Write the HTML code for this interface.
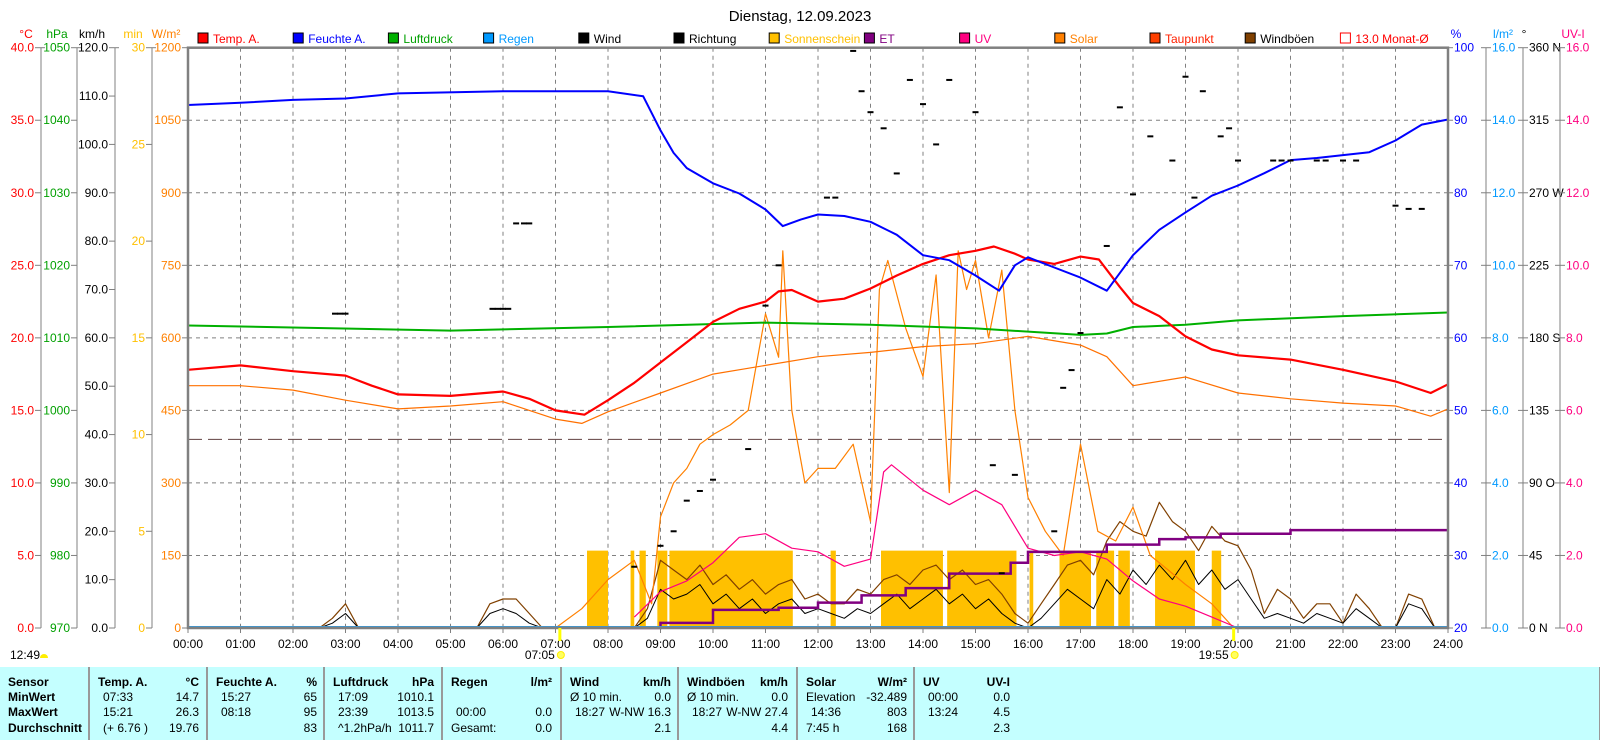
<!DOCTYPE html>
<html><head><meta charset="utf-8">
<style>
html,body{margin:0;padding:0;background:#fff;}
body{width:1600px;height:740px;overflow:hidden;position:relative;font-family:"Liberation Sans",sans-serif;}
svg{position:absolute;left:0;top:0;}
svg text{font-family:"Liberation Sans",sans-serif;font-size:12px;}
#tbl{position:absolute;left:0;top:667px;width:1599px;height:73px;background:#c4ffff;border-right:1px solid #999;font-size:12px;color:#000;}
.col{position:absolute;top:0;height:73px;border-left:2px solid #999;}
.r{position:absolute;white-space:nowrap;}
.b{font-weight:bold;}
</style></head>
<body>
<svg id="chart" width="1600" height="667"></svg>
<div id="tbl">
 <div class="r b" style="left:8px;top:8px">Sensor</div>
 <div class="r b" style="left:8px;top:23px">MinWert</div>
 <div class="r b" style="left:8px;top:38px">MaxWert</div>
 <div class="r b" style="left:8px;top:54px">Durchschnitt</div>
</div>
<script>
const NS='http://www.w3.org/2000/svg';
const svg=document.getElementById('chart');
// ---- data ----
const tempT=[0,1,2,3,3.5,4,5,6,6.5,7,7.55,8,8.5,9,9.5,10,10.5,11,11.25,11.5,12,12.5,13,13.5,14,14.5,15,15.35,15.75,16,16.5,17,17.35,17.75,18,18.5,19,19.5,20,21,22,23,23.67,24];
const tempV=[17.8,18.1,17.7,17.4,16.7,16.1,16.0,16.3,15.8,15.0,14.7,15.7,16.9,18.3,19.7,21.1,22.0,22.5,23.2,23.3,22.5,22.7,23.4,24.3,25.1,25.7,26.0,26.3,25.8,25.4,25.1,25.6,25.4,23.5,22.4,21.5,20.1,19.2,18.8,18.5,17.8,17.0,16.2,16.8];
const humT=[0,1,2,3,4,6,8,8.67,9,9.25,9.5,10,10.5,11,11.33,11.67,12,12.5,13,13.5,14,14.5,15,15.45,15.75,16,16.5,17,17.5,18,18.5,19,19.5,20,20.5,21,21.5,22,22.5,23,23.5,24];
const humV=[92.1,92.4,92.8,93,93.7,94,94,93.3,88.6,85.5,83.4,81.3,79.9,77.7,75.4,76.3,77,76.8,76,74.2,71.4,70.7,68.6,66.5,70,71.1,69.7,68.3,66.5,71.4,74.9,77.3,79.6,81,82.7,84.5,84.8,85.2,85.6,87.2,89.4,90.1];
const presT=[0,5,8,11,13,15,17,17.5,18,19,20,22,24];
const presV=[1011.7,1011.0,1011.5,1012.1,1011.8,1011.3,1010.4,1010.6,1011.5,1011.8,1012.4,1013.0,1013.5];
const dewT=[0,1,2,3,4,5,6,7,7.5,8,9,10,11,12,13,14,15,16,17,17.5,18,19,20,21,22,23,23.67,24];
const dewV=[16.7,16.7,16.4,15.7,15.1,15.3,15.6,14.4,14.1,14.9,16.2,17.5,18.1,18.7,19.0,19.4,19.6,20.1,19.5,18.7,16.7,17.3,16.2,15.8,15.5,15.3,14.6,15.1];
const solarT=[7,7.5,8,8.5,8.83,9,9.25,9.5,9.75,10,10.33,10.67,11,11.25,11.33,11.5,11.75,12,12.33,12.67,13,13.17,13.33,13.67,14,14.25,14.5,14.67,14.83,15,15.25,15.5,15.75,16,16.33,16.67,17,17.33,17.67,18,18.33,18.67,19,19.5,19.92];
const solarV=[0,40,100,140,50,230,300,330,380,400,420,450,650,560,780,450,300,330,330,380,220,700,760,620,520,730,280,780,700,760,600,740,450,270,200,150,380,200,180,250,150,120,90,50,0];
const uvT=[8.5,9,9.5,10,10.5,11,11.5,12,12.5,13,13.25,13.4,14,14.5,15,15.5,16,16.5,17,17.5,18,18.5,19,19.5,20];
const uvV=[0.3,1.0,1.3,1.8,2.5,2.6,2.2,2.1,1.7,1.9,4.3,4.5,3.8,3.4,3.8,3.4,2.2,2.0,2.1,1.9,1.3,0.8,0.6,0.3,0];
const etT=[8,9,10,11.25,12,12.83,13.67,14.5,15.67,16,17.5,18.5,19,19.67,21,24];
const etV=[0,0.14,0.5,0.56,0.7,0.9,1.1,1.5,1.8,2.1,2.3,2.45,2.5,2.6,2.7,2.7];
const sunStart=[7.6,8.43,8.6,8.94,9.17,12.24,13.2,14.46,16.03,16.6,17.3,17.72,18.42,19.5];
const sunEnd=[8.0,8.5,8.72,9.13,11.52,12.34,14.38,15.78,16.1,17.2,17.64,17.94,19.18,19.68];
const sunMin=[4,4,4,4,4,4,4,4,4,4,4,4,4,4];
const windV=[0,0,0,0,0,0,0,0,0,0,0,1,3,0,0,0,0,0,0,0,0,0,0,3,4,3,1,0,0,0,0,0,0,0,0,2,8,6,7,9,5,7,4,6,3,5,6,3,4,3,2,4,3,5,7,4,6,8,5,7,4,6,3,1,0,2,5,8,6,4,10,7,12,9,13,10,14,9,12,8,10,6,2,3,2,1,3,2,1,4,2,0,0,5,4,0,0];
const gustV=[0,0,0,0,0,0,0,0,0,0,0,2,5,0,0,0,0,0,0,0,0,0,0,5,6,6,3,0,0,0,0,0,0,0,0,4,14,12,10,13,9,11,8,10,7,9,10,6,7,5,5,8,7,10,11,9,12,13,10,12,9,10,7,3,1,5,9,13,14,11,18,22,20,19,26,22,20,16,21,18,17,12,3,8,6,2,5,5,1,7,4,0,0,7,6,0,0];
const dirT=[2.8,2.9,3.0,5.8,5.9,6.0,6.1,6.25,6.4,6.5,8.5,9.0,9.25,9.5,9.75,10.0,10.67,11.0,11.25,12.17,12.33,12.67,12.83,13.0,13.25,13.5,13.75,14.0,14.25,14.5,15.0,15.33,15.5,15.75,16.5,16.67,16.83,17.0,17.5,17.75,18.0,18.33,18.75,19.0,19.17,19.33,19.67,19.83,20.0,20.67,20.83,21.0,21.5,21.67,22.0,22.25,23.0,23.25,23.5];
const dirV=[195,195,195,198,198,198,198,251,251,251,38,51,60,79,85,92,111,200,225,267,267,358,333,320,310,282,340,325,300,340,320,101,34,95,60,149,160,183,237,323,269,305,290,342,267,333,305,310,290,290,290,290,290,290,290,290,262,260,260];
const tempTicks=['0.0','5.0','10.0','15.0','20.0','25.0','30.0','35.0','40.0'];
const presTicks=['970','980','990','1000','1010','1020','1030','1040','1050'];
const kmhTicks=['0.0','10.0','20.0','30.0','40.0','50.0','60.0','70.0','80.0','90.0','100.0','110.0','120.0'];
const minTicks=['0','5','10','15','20','25','30'];
const wTicks=['0','150','300','450','600','750','900','1050','1200'];
const humTicks=['20','30','40','50','60','70','80','90','100'];
const rainTicks=['0.0','2.0','4.0','6.0','8.0','10.0','12.0','14.0','16.0'];
const dirTicks=['0  N','45','90  O','135','180  S','225','270  W','315','360  N'];
const uvTicks=['0.0','2.0','4.0','6.0','8.0','10.0','12.0','14.0','16.0'];
const hourLabels=['00:00','01:00','02:00','03:00','04:00','05:00','06:00','07:00','08:00','09:00','10:00','11:00','12:00','13:00','14:00','15:00','16:00','17:00','18:00','19:00','20:00','21:00','22:00','23:00','24:00'];
const legendLabels=['Temp. A.','Feuchte A.','Luftdruck','Regen','Wind','Richtung','Sonnenschein','ET','UV','Solar','Taupunkt','Windböen','13.0 Monat-Ø'];
const legendColors=['#ff0000','#0000ff','#00b000','#0099ff','#000000','#000000','#ffc000','#800080','#ff0080','#ff8000','#ff4000','#804000','none'];
const legendText=['#ff0000','#0000ff','#00a000','#0099ff','#000','#000','#ffc000','#800080','#ff0080','#ff8000','#ff2000','#000','#ff0000'];
const monthAvg=13.0;
// ---- scales ----
const X0=188,X1=1448,YB=628,YT=47.7,PH=YB-YT;
const X=h=>X0+h*(X1-X0)/24;
const Yf=f=>YB-f*PH;
const T=c=>Yf(c/40), P=v=>Yf((v-970)/80), KM=v=>Yf(v/120), MN=v=>Yf(v/30), W=v=>Yf(v/1200);
const HU=v=>Yf((v-20)/80), L=v=>Yf(v/16), D=v=>Yf(v/360), U=v=>Yf(v/16);
function mk(tag,attrs,parent){const e=document.createElementNS(NS,tag);for(const k in attrs)e.setAttribute(k,attrs[k]);(parent||svg).appendChild(e);return e;}
function txt(x,y,s,fill,anchor,size){const e=mk('text',{x:x,y:y,fill:fill,'text-anchor':anchor||'start'});if(size)e.style.fontSize=size+'px';e.textContent=s;return e;}
function poly(ts,vs,sc,color,w){return mk('polyline',{points:ts.map((t,i)=>X(t).toFixed(1)+','+sc(vs[i]).toFixed(1)).join(' '),fill:'none',stroke:color,'stroke-width':w,'stroke-linejoin':'round'});}
// title
let t=txt(800,21,'Dienstag, 12.09.2023','#000','middle',15);


// grid
for(let i=1;i<24;i++){const g=mk('line',{x1:X(i),x2:X(i),y1:YT,y2:YB,stroke:'#808080','stroke-dasharray':'4,4'});

}
for(let i=1;i<8;i++){const g=mk('line',{x1:X0,x2:X1,y1:Yf(i/8),y2:Yf(i/8),stroke:'#808080','stroke-dasharray':'4,4'});

}
// sunshine bars
sunStart.forEach((s,i)=>{const r=mk('rect',{x:X(s),y:MN(sunMin[i]),width:X(sunEnd[i])-X(s),height:YB-MN(sunMin[i]),fill:'#ffc000'});

});
// monthly avg dashed
let ma=mk('line',{x1:X0,x2:X1,y1:T(monthAvg),y2:T(monthAvg),stroke:'#604040','stroke-dasharray':'14,6'});


// wind & gust
const wT=windV.map((v,i)=>i*0.25);
let s;
s=poly(wT,gustV,KM,'#804000',1.2);


s=poly(wT,windV,KM,'#000',1);


s=poly(solarT,solarV,W,'#ff8000',1.2);


s=poly(uvT,uvV,U,'#ff0080',1.2);


s=poly(dewT,dewV,T,'#ff7000',1.2);


// ET step
let etPts=[];etT.forEach((tt,i)=>{if(i>0)etPts.push(X(tt)+','+L(etV[i-1]));etPts.push(X(tt)+','+L(etV[i]));});
s=mk('polyline',{points:etPts.join(' '),fill:'none',stroke:'#800080','stroke-width':2.5});


s=poly(presT,presV,P,'#00b000',2);


s=poly(tempT,tempV,T,'#ff0000',2.2);


s=poly(humT,humV,HU,'#0000ff',2);


// direction dots
dirT.forEach((tt,i)=>{const r=mk('rect',{x:X(tt)-3,y:D(dirV[i])-1,width:6,height:2,fill:'#000'});

});
// rain baseline
s=mk('line',{x1:X0,x2:X1,y1:YB-1,y2:YB-1,stroke:'#3399dd','stroke-width':2});


// frame
s=mk('rect',{x:X0,y:YT,width:X1-X0,height:PH,fill:'none',stroke:'#808080','stroke-width':2.5});


// x labels
hourLabels.forEach((l,i)=>{mk('line',{x1:X(i),x2:X(i),y1:YB,y2:YB+5,stroke:'#808080'});const e=txt(X(i),648,l,'#000','middle');

});
// sunrise/sunset
[[7.083,'07:05'],[19.917,'19:55']].forEach(a=>{mk('line',{x1:X(a[0]),x2:X(a[0]),y1:YB,y2:YB+13,stroke:'#ffff00','stroke-width':3});
const e=txt(X(a[0])-5,659,a[1],'#000','end');


mk('circle',{cx:X(a[0])+1,cy:655,r:3.5,fill:'#ffff60',stroke:'#ffee00'});});
t=txt(10,659,'12:49','#000');


mk('path',{d:'M40 658 a4 4 0 0 1 8 0 z',fill:'#ffee00'});
// left/right axes
function axis(lx,labels,color,side,unit,ux,dn){
 mk('line',{x1:lx,x2:lx,y1:YT,y2:YB,stroke:'#808080'});
 const n=labels.length-1;
 labels.forEach((l,i)=>{const y=Yf(i/n);
  if(side==='L'){mk('line',{x1:lx-6,x2:lx+(i===n?4:0),y1:y,y2:y,stroke:'#808080'});const e=txt(lx-7,y+4,l,color,'end',12);
  
  }
  else{mk('line',{x1:lx-(lx===X1?0:5),x2:lx+5,y1:y,y2:y,stroke:'#808080'});const e=txt(lx+6,y+4,l,color,'start',12);
  
  }
 });
 const u=txt(ux,38,unit,color,'middle');
 
 
}
axis(41,tempTicks,'#ff0000','L','°C',26,'temp-axis');
axis(77,presTicks,'#00a000','L','hPa',57,'pressure-axis');
axis(115,kmhTicks,'#000','L','km/h',92,'wind-axis');
axis(152,minTicks,'#ffc000','L','min',133,'sunshine-axis');
axis(X0,wTicks,'#ff8000','L','W/m²',166,'solar-axis');
axis(X1,humTicks,'#0000ff','R','%',1456,'humidity-axis');
axis(1486,rainTicks,'#0099ff','R','l/m²',1503,'rain-axis');
axis(1523,dirTicks.map(x=>x.replace(/  /,' ')),'#000','R','°',1524,'direction-axis');
axis(1560,uvTicks,'#ff0080','R','UV-I',1573,'uv-axis');
// legend
legendLabels.forEach((l,i)=>{const x=198+i*95.2;
 const b=mk('rect',{x:x,y:33,width:10,height:10,fill:legendColors[i],stroke:legendColors[i]==='none'?'#ff0000':'#000'});
 
 
 const e=txt(x+15,43,l,legendText[i]);
 
 });
// table
const tbl=document.getElementById('tbl');
const colX=[88,206,323,441,560,677,796,913];
const colHead=[['Temp. A.','°C'],['Feuchte A.','%'],['Luftdruck','hPa'],['Regen','l/m²'],['Wind','km/h'],['Windböen','km/h'],['Solar','W/m²'],['UV','UV-I']];
const colRows=[[['07:33','14.7'],['15:21','26.3'],['(+ 6.76 )','19.76']],[['15:27','65'],['08:18','95'],['','83']],[['17:09','1010.1'],['23:39','1013.5'],['^1.2hPa/h','1011.7']],[['',''],['00:00','0.0'],['Gesamt:','0.0']],[['Ø 10 min.','0.0'],['18:27','W-NW 16.3'],['','2.1']],[['Ø 10 min.','0.0'],['18:27','W-NW 27.4'],['','4.4']],[['Elevation','-32.489'],['14:36','803'],['7:45 h','168']],[['00:00','0.0'],['13:24','4.5'],['','2.3']]];
const rowTop=[23,38,54];
colX.forEach((cx,i)=>{
 const c=document.createElement('div');c.className='col';c.style.left=cx+'px';c.style.width=(i===7?117:115)+'px';
 
 
 tbl.appendChild(c);
 c.innerHTML='<div class="r b" style="left:8px;top:8px">'+colHead[i][0]+'</div><div class="r b" style="right:'+(i===7?22:6)+'px;top:8px">'+colHead[i][1]+'</div>'+
 colRows[i].map((r,j)=>'<div class="r" style="left:'+((i===6&&j!==1)||i===4&&j===0||i===5&&j===0||i===3&&j===2?8:13)+'px;top:'+rowTop[j]+'px">'+r[0]+'</div><div class="r" style="right:'+(i===7?22:6)+'px;top:'+rowTop[j]+'px">'+r[1]+'</div>').join('');
});
</script>
</body></html>
